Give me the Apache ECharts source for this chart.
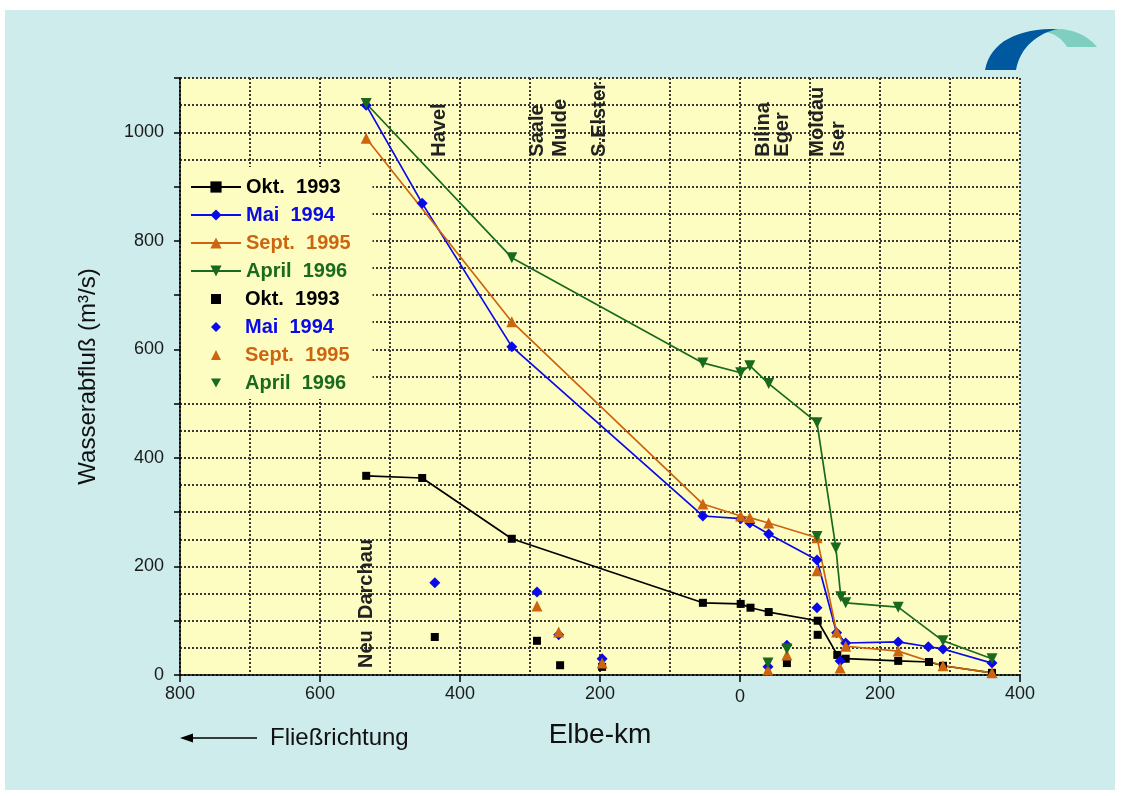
<!DOCTYPE html>
<html>
<head>
<meta charset="utf-8">
<title>Wasserabfluß der Elbe</title>
<script src="https://cdn.jsdelivr.net/npm/echarts@6/dist/echarts.min.js"></script>
<style>
html, body { margin: 0; padding: 0; background: #fff; }
#main { position: absolute; left: 5px; top: 10px; width: 1110px; height: 780px; }
</style>
</head>
<body>
<div id="main"></div>
<script>
// Elbe-km: deutsche Strecke negativ (links), tschechische Strecke positiv (rechts)
const kmOkt93 = [-534, -454, -326, -53, 1, 15, 41, 111, 139, 151, 226, 270, 290, 360];
const qOkt93  = [367, 363, 251, 133, 131, 124, 116, 100, 37, 30, 26, 24, 17, 4];

const kmMai94 = [-534, -454, -326, -53, 1, 14, 41, 110, 138, 151, 226, 269, 290, 360];
const qMai94  = [1050, 869, 605, 293, 288, 280, 260, 212, 78, 59, 61, 52, 48, 22];

const kmSep95 = [-534, -326, -53, 1, 14, 41, 110, 138, 151, 226, 290, 360];
const qSep95  = [989, 651, 315, 293, 290, 280, 253, 79, 53, 44, 17, 4];

const kmApr96 = [-534, -326, -53, 1, 14, 41, 110, 137, 144, 151, 226, 290, 360];
const qApr96  = [1053, 769, 575, 557, 570, 537, 465, 234, 144, 133, 125, 63, 30];

// Nebenfluesse (Einzelwerte)
const kmTribOkt93 = [-436, -290, -257, -197, 67, 111];
const qTribOkt93  = [70, 63, 18, 15, 22, 74];
const kmTribMai94 = [-436, -290, -259, -197, 40, 67, 110, 143];
const qTribMai94  = [170, 153, 74, 30, 15, 55, 124, 26];
const kmTribSep95 = [-290, -259, -197, 40, 67, 110, 143];
const qTribSep95  = [127, 79, 22, 9, 37, 192, 13];
const kmTribApr96 = [40, 67, 110];
const qTribApr96  = [22, 48, 255];

const riverNames = ['Havel', 'Saale', 'Mulde', 'S.Elster', 'Bilina', 'Eger', 'Moldau', 'Iser'];
const riverKm    = [-430, -289, -257, -201, 33, 61, 111, 140];

const seriesLabels = ['Okt.  1993', 'Mai  1994', 'Sept.  1995', 'April  1996'];
const colors = ['#000000', '#0a0ae8', '#cc6410', '#1a6a1e'];
const symbols = ['rect', 'diamond', 'triangle', 'triangle'];
const symbolSizes = [8, 11, 11, 11];
const rotations = [0, 0, 0, 180];
// Legendensymbole fuer die Einzelwerte (Dreieck nach unten als Pfad)
const legendIcons = ['rect', 'diamond', 'triangle', 'path://M0,0 L10,0 L5,9 Z'];

const FONT = 'Liberation Sans, Arial, Helvetica, sans-serif';
const zip = (a, b) => a.map((v, i) => [v, b[i]]);

const lineData = [zip(kmOkt93, qOkt93), zip(kmMai94, qMai94), zip(kmSep95, qSep95), zip(kmApr96, qApr96)];
const tribData = [zip(kmTribOkt93, qTribOkt93), zip(kmTribMai94, qTribMai94), zip(kmTribSep95, qTribSep95), zip(kmTribApr96, qTribApr96)];

const series = [];
const legendLines = [];
const legendTribs = [];
lineData.forEach((d, i) => {
  const name = 'line' + i;
  series.push({
    name: name, type: 'line', data: d,
    symbol: symbols[i], symbolSize: symbolSizes[i], symbolRotate: rotations[i],
    itemStyle: { color: colors[i], opacity: 1 },
    lineStyle: { color: colors[i], width: 1.7 },
    z: 3
  });
  legendLines.push({ name: name, textStyle: { color: colors[i] } });
});
tribData.forEach((d, i) => {
  const name = 'trib' + i;
  series.push({
    name: name, type: 'scatter', data: d,
    symbol: symbols[i], symbolSize: symbolSizes[i], symbolRotate: rotations[i],
    itemStyle: { color: colors[i], opacity: 1 },
    z: 4
  });
  legendTribs.push({ name: name, icon: legendIcons[i], itemStyle: { color: colors[i], opacity: 1 }, textStyle: { color: colors[i] } });
});

const gridLine = { show: true, lineStyle: { color: '#383838', width: 2, type: [2, 2] } };
const legendText = { fontSize: 20, fontWeight: 'bold', fontFamily: FONT };

const option = {
  animation: false,
  backgroundColor: '#cdeceb',
  grid: {
    left: 175, right: 95, top: 68, bottom: 115,
    show: true, backgroundColor: '#fdfdc2', borderWidth: 0,
    containLabel: false, outerBoundsMode: 'none'
  },
  legend: [{
    // Linien (mit gelbem Kasten fuer alle 8 Eintraege)
    orient: 'vertical', left: 176, top: 157, z: 4,
    data: legendLines,
    formatter: n => seriesLabels[Number(n.slice(-1))],
    backgroundColor: '#fdfdc2',
    padding: [10, 22, 118, 9],
    itemWidth: 50, itemHeight: 14, itemGap: 8,
    textStyle: legendText,
    selectedMode: false
  }, {
    // Einzelwerte nur als Symbol
    orient: 'vertical', left: 206, top: 279, z: 5,
    data: legendTribs,
    formatter: n => seriesLabels[Number(n.slice(-1))],
    padding: 0,
    itemWidth: 10, itemHeight: 10, itemGap: 8,
    textStyle: Object.assign({ padding: [0, 0, 0, 19] }, legendText),
    selectedMode: false
  }],
  xAxis: {
    type: 'value', min: -800, max: 400, interval: 200,
    name: 'Elbe-km', nameLocation: 'middle', nameGap: 46,
    nameTextStyle: { fontSize: 28, color: '#111', fontFamily: FONT },
    axisLine: { show: true, onZero: false, lineStyle: { color: '#000', width: 1.5 } },
    axisTick: { show: true, length: 7, lineStyle: { color: '#000', width: 1.5 } },
    axisLabel: {
      fontSize: 18, color: '#1a1a1a', fontFamily: FONT, margin: 10,
      formatter: v => (v === 0 ? '{z|0}' : String(Math.abs(v))),
      rich: { z: { fontSize: 18, color: '#1a1a1a', fontFamily: FONT, padding: [3, 0, 0, 0] } }
    },
    splitLine: gridLine,
    minorTick: { show: false, splitNumber: 2 },
    minorSplitLine: gridLine
  },
  yAxis: {
    type: 'value', min: 0, max: 1100, interval: 100,
    name: 'Wasserabfluß (m³/s)', nameLocation: 'middle', nameGap: 80,
    nameTextStyle: { fontSize: 24, color: '#111', fontFamily: FONT },
    axisLine: { show: true, onZero: false, lineStyle: { color: '#000', width: 1.5 } },
    axisTick: { show: true, length: 6, lineStyle: { color: '#000', width: 1.5 } },
    axisLabel: { fontSize: 18, color: '#1a1a1a', fontFamily: FONT, margin: 16, formatter: v => (v % 200 === 0 ? String(v) : '') },
    splitLine: gridLine,
    minorTick: { show: false, splitNumber: 2 },
    minorSplitLine: gridLine
  },
  series: series
};

const chart = echarts.init(document.getElementById('main'));
chart.setOption(option);

const toPx = (km, q) => chart.convertToPixel({ xAxisIndex: 0, yAxisIndex: 0 }, [km, q]);
const labelStyle = (text) => ({
  text: text, fontSize: 20, fontWeight: 'bold', fontFamily: FONT, fill: '#222',
  align: 'left', verticalAlign: 'middle'
});

const graphics = [];
riverNames.forEach((n, i) => {
  const p = toPx(riverKm[i], 955);
  graphics.push({ type: 'text', x: p[0], y: p[1], rotation: Math.PI / 2, style: labelStyle(n), z: 10 });
});
const nd = toPx(-534, 13);
graphics.push({ type: 'text', x: nd[0], y: nd[1], rotation: Math.PI / 2, style: labelStyle('Neu  Darchau'), z: 10 });

// Fliessrichtung
const a0 = toPx(-800, 0);
const arrowY = a0[1] + 63;
graphics.push({ type: 'line', shape: { x1: a0[0] + 10, y1: arrowY, x2: a0[0] + 77, y2: arrowY }, style: { stroke: '#000', lineWidth: 1.5 } });
graphics.push({ type: 'polygon', shape: { points: [[a0[0], arrowY], [a0[0] + 13, arrowY - 4.5], [a0[0] + 13, arrowY + 4.5]] }, style: { fill: '#000' } });
graphics.push({ type: 'text', x: a0[0] + 90, y: arrowY, style: { text: 'Fließrichtung', fontSize: 24, fontFamily: FONT, fill: '#111', align: 'left', verticalAlign: 'middle' } });

// Logo oben rechts (Bezier-Kurven als Polygon abgetastet)
function bez(p0, p1, p2, p3) {
  const pts = [];
  for (let k = 0; k <= 16; k++) {
    const t = k / 16, u = 1 - t;
    pts.push([
      u * u * u * p0[0] + 3 * u * u * t * p1[0] + 3 * u * t * t * p2[0] + t * t * t * p3[0] - 5,
      u * u * u * p0[1] + 3 * u * u * t * p1[1] + 3 * u * t * t * p2[1] + t * t * t * p3[1] - 10
    ]);
  }
  return pts;
}
const tealPts = bez([1044, 30], [1066, 26], [1086, 33], [1097, 47]).concat(bez([1067, 47], [1062, 39], [1055, 33], [1044, 32]));
const bluePts = bez([985, 70], [990, 42], [1018, 28], [1058, 29]).concat(bez([1058, 29], [1038, 33], [1020, 47], [1016, 70]));
graphics.push({ type: 'polygon', shape: { points: tealPts }, style: { fill: '#7fcfc0' } });
graphics.push({ type: 'polygon', shape: { points: bluePts }, style: { fill: '#00599f' } });

chart.setOption({ graphic: graphics });
</script>
</body>
</html>
